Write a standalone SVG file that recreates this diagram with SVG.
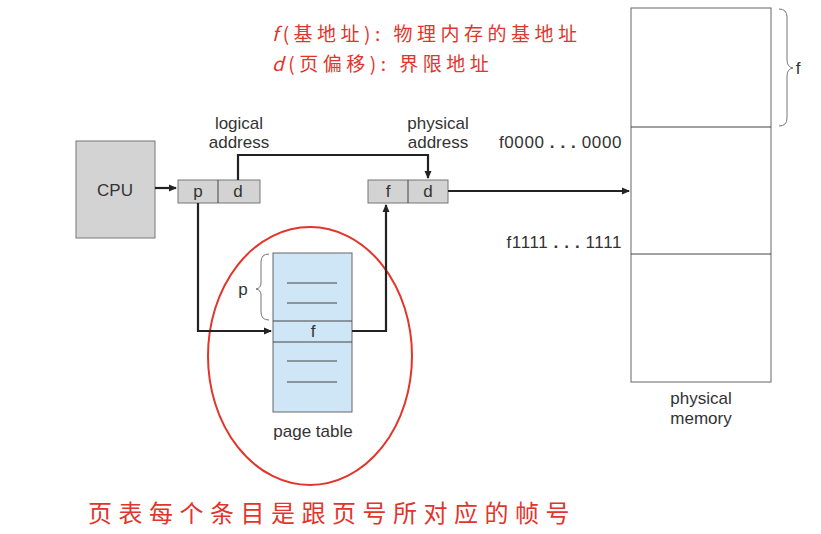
<svg xmlns="http://www.w3.org/2000/svg" width="821" height="534" viewBox="0 0 821 534">
<defs>
<marker id="ah" markerWidth="8" markerHeight="8" refX="7" refY="4" orient="auto" markerUnits="userSpaceOnUse">
<path d="M0,0.5 L8,4 L0,7.5 Z" fill="#222"/>
</marker>
<style>
.lbl{font-family:"Liberation Sans",Arial,sans-serif;font-size:17px;fill:#333;text-anchor:middle}
.addr{font-family:"Liberation Sans",Arial,sans-serif;font-size:17px;fill:#333;text-anchor:end;letter-spacing:0.6px}
.box{fill:#d3d3d3;stroke:#777;stroke-width:1}
.pt{fill:#cfe6f6;stroke:#666;stroke-width:1}
.mem{fill:#fff;stroke:#666;stroke-width:1}
.ln{stroke:#444;stroke-width:1}
.con{fill:none;stroke:#222;stroke-width:2.2}
.red{font-family:"Noto Sans CJK SC","Noto Sans",sans-serif;fill:#e3342b}
</style>
</defs>
<rect width="821" height="534" fill="#fff"/>

<g id="notes">
<text class="red" x="272" y="41" font-size="19" letter-spacing="4.5"><tspan font-style="italic">f</tspan>(基地址): 物理内存的基地址</text>
<text class="red" x="272" y="71" font-size="19" letter-spacing="4.5"><tspan font-style="italic">d</tspan>(页偏移): 界限地址</text>
<text class="red" x="88" y="522" font-size="24" letter-spacing="6.5">页表每个条目是跟页号所对应的帧号</text>
</g>

<g id="cpu">
<rect class="box" x="76" y="141" width="79" height="97"/>
<text class="lbl" x="115" y="196">CPU</text>
</g>

<g id="logical-address">
<rect class="box" x="178" y="180" width="82" height="23"/>
<line class="ln" x1="218" y1="180" x2="218" y2="203"/>
<text class="lbl" x="198" y="197">p</text>
<text class="lbl" x="238" y="197">d</text>
<text class="lbl" x="239" y="129">logical</text>
<text class="lbl" x="239" y="148">address</text>
</g>

<g id="physical-address">
<rect class="box" x="368" y="180" width="80" height="23"/>
<line class="ln" x1="408" y1="180" x2="408" y2="203"/>
<text class="lbl" x="388" y="197">f</text>
<text class="lbl" x="428" y="197">d</text>
<text class="lbl" x="438" y="129">physical</text>
<text class="lbl" x="438" y="148">address</text>
</g>

<g id="page-table">
<rect class="pt" x="273" y="253" width="79" height="159"/>
<line class="ln" x1="273" y1="321" x2="352" y2="321"/>
<line class="ln" x1="273" y1="342" x2="352" y2="342"/>
<line class="ln" x1="287" y1="283" x2="337" y2="283"/>
<line class="ln" x1="287" y1="303" x2="337" y2="303"/>
<line class="ln" x1="287" y1="361" x2="337" y2="361"/>
<line class="ln" x1="287" y1="382" x2="337" y2="382"/>
<text class="lbl" x="313" y="337">f</text>
<path d="M269,254 Q261,254 261,262 L261,283 Q261,288 256,289 Q261,290 261,295 L261,312 Q261,320 269,320" fill="none" stroke="#777" stroke-width="1"/>
<text class="lbl" x="243" y="295">p</text>
<text class="lbl" x="313" y="437">page table</text>
<ellipse cx="310" cy="356" rx="102" ry="129" fill="none" stroke="#e3342b" stroke-width="2"/>
</g>

<g id="physical-memory">
<rect class="mem" x="631" y="8" width="140" height="374"/>
<line class="ln" x1="631" y1="127" x2="771" y2="127"/>
<line class="ln" x1="631" y1="254" x2="771" y2="254"/>
<path d="M779,9 Q787,9 787,17 L787,60 Q787,67 793,68 Q787,69 787,76 L787,118 Q787,126 779,126" fill="none" stroke="#777" stroke-width="1"/>
<text class="lbl" x="798" y="74">f</text>
<text class="addr" x="622" y="148">f0000 <tspan font-weight="bold">. . .</tspan> 0000</text>
<text class="addr" x="622" y="248">f1111 <tspan font-weight="bold">. . .</tspan> 1111</text>
<text class="lbl" x="701" y="404">physical</text>
<text class="lbl" x="701" y="424">memory</text>
</g>

<g id="connectors">
<line class="con" x1="155" y1="188" x2="176" y2="188" marker-end="url(#ah)"/>
<polyline class="con" points="238,180 238,155 428,155 428,178" marker-end="url(#ah)"/>
<line class="con" x1="448" y1="191" x2="629" y2="191" marker-end="url(#ah)"/>
<polyline class="con" points="198,203 198,331 271,331" marker-end="url(#ah)"/>
<polyline class="con" points="352,331 386,331 386,205" marker-end="url(#ah)"/>
</g>
</svg>
